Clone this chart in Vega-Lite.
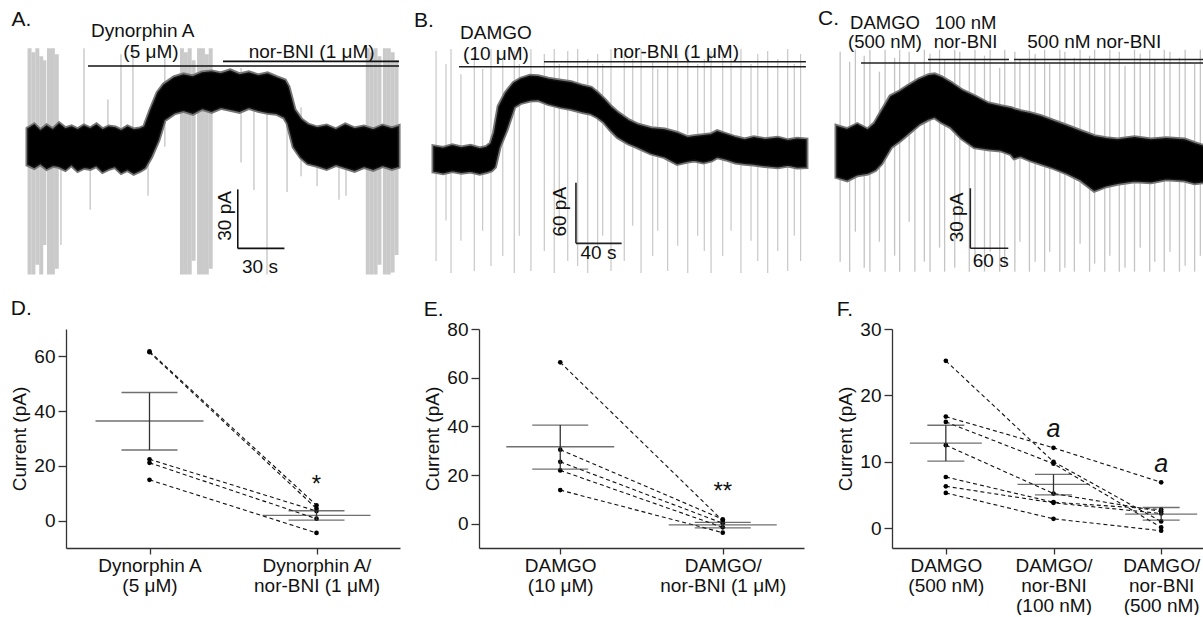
{
  "$schema": "https://vega.github.io/schema/vega-lite/v6.json",
  "padding": {"left": 10, "top": 0, "right": 0, "bottom": 0},
  "background": "white",
  "config": {
    "view": {"stroke": null},
    "font": "Liberation Sans",
    "text": {"font": "Liberation Sans", "color": "#111"},
    "axis": {"domainColor": "#333", "tickColor": "#333", "labelColor": "#111", "titleColor": "#111", "labelFont": "Liberation Sans", "titleFont": "Liberation Sans", "labelFontSize": 19, "titleFontSize": 19, "titleFontWeight": "normal", "grid": false, "domainWidth": 1.3, "tickWidth": 1.3, "labelOverlap": false},
    "axisY": {"tickSize": 8, "labelPadding": 3, "titlePadding": 4},
    "axisX": {"tickSize": 6, "labelPadding": 2, "labelAngle": 0, "labelLineHeight": 20, "labelExpr": "split(datum.label, '|')"},
    "title": {"font": "Liberation Sans", "fontSize": 21, "fontWeight": "normal", "anchor": "start", "frame": "bounds", "color": "#111"}
  },
  "datasets": {
    "bandA": [
      {"time":0,"pA":-9,"pA2":9},{"time":4,"pA":-10.5,"pA2":11},{"time":8,"pA":-8.5,"pA2":8},{"time":12,"pA":-11,"pA2":10.5},{"time":16,"pA":-9.5,"pA2":8.5},{"time":20,"pA":-10,"pA2":11.5},{"time":24,"pA":-11.5,"pA2":9},{"time":28,"pA":-9,"pA2":10},{"time":32,"pA":-12,"pA2":8.5},{"time":36,"pA":-10.5,"pA2":10.5},{"time":40,"pA":-11,"pA2":9},{"time":44,"pA":-9.5,"pA2":11},{"time":48,"pA":-12.5,"pA2":8.5},{"time":52,"pA":-11,"pA2":10},{"time":56,"pA":-10,"pA2":9.5},{"time":60,"pA":-13,"pA2":8},{"time":64,"pA":-11.5,"pA2":10},{"time":68,"pA":-13.5,"pA2":8.5},{"time":72,"pA":-12,"pA2":9},{"time":75,"pA":-10.5,"pA2":10},{"time":79,"pA":-5,"pA2":18.5},{"time":83.6,"pA":3.4,"pA2":27.3},{"time":87.5,"pA":13.6,"pA2":31.4},{"time":94,"pA":17.2,"pA2":35},{"time":100,"pA":18.5,"pA2":36.5},{"time":106,"pA":17,"pA2":35.5},{"time":112,"pA":19.5,"pA2":37.5},{"time":118,"pA":18,"pA2":38},{"time":124,"pA":20,"pA2":37},{"time":130,"pA":19,"pA2":38.5},{"time":136,"pA":18,"pA2":36.5},{"time":142,"pA":20,"pA2":37.5},{"time":148,"pA":18.5,"pA2":36},{"time":154,"pA":17.5,"pA2":37},{"time":160,"pA":17,"pA2":35},{"time":165,"pA":15,"pA2":33.5},{"time":167.2,"pA":12,"pA2":30.4},{"time":171.1,"pA":0,"pA2":18.7},{"time":175.6,"pA":-5.2,"pA2":13.6},{"time":180,"pA":-8.3,"pA2":11},{"time":186,"pA":-9.5,"pA2":9.5},{"time":192,"pA":-11,"pA2":10.5},{"time":198,"pA":-9,"pA2":8.5},{"time":204,"pA":-10.5,"pA2":11},{"time":210,"pA":-12,"pA2":9},{"time":216,"pA":-10,"pA2":10},{"time":222,"pA":-11.5,"pA2":8.5},{"time":228,"pA":-9.5,"pA2":10.5},{"time":234,"pA":-11,"pA2":9},{"time":238,"pA":-10,"pA2":10}
    ],
    "spikesAdense": [
      {"time":1,"pA":-65,"pA2":50},{"time":3.5,"pA":-65,"pA2":48},{"time":6,"pA":-60,"pA2":50},{"time":8.5,"pA":-65,"pA2":46},{"time":10.5,"pA":-50,"pA2":44},{"time":13.5,"pA":-65,"pA2":50},{"time":16,"pA":-65,"pA2":50},{"time":18.5,"pA":-62,"pA2":47},
      {"time":99,"pA":-65,"pA2":50},{"time":101.5,"pA":-65,"pA2":48},{"time":104,"pA":-65,"pA2":50},{"time":106.5,"pA":-58,"pA2":44},{"time":110,"pA":-65,"pA2":50},{"time":112.5,"pA":-65,"pA2":50},{"time":115,"pA":-65,"pA2":47},{"time":117.5,"pA":-62,"pA2":50},
      {"time":218.5,"pA":-65,"pA2":50},{"time":221,"pA":-65,"pA2":48},{"time":223.5,"pA":-65,"pA2":50},{"time":226,"pA":-60,"pA2":46},{"time":229.5,"pA":-65,"pA2":50},{"time":232,"pA":-65,"pA2":50},{"time":234.5,"pA":-64,"pA2":48},{"time":237,"pA":-55,"pA2":44}
    ],
    "spikesAsparse": [
      {"time":36,"pA":0,"pA2":50},{"time":40,"pA":-32,"pA2":0},{"time":51.4,"pA":0,"pA2":24},{"time":67.5,"pA":0,"pA2":50},{"time":77.2,"pA":-25,"pA2":0},{"time":21.2,"pA":-50,"pA2":0},{"time":145.3,"pA":-22,"pA2":20},{"time":153.7,"pA":-65,"pA2":25},{"time":166.6,"pA":-23,"pA2":25},{"time":185.9,"pA":-20,"pA2":0},{"time":200,"pA":-27,"pA2":0},{"time":204.5,"pA":-25,"pA2":0},{"time":175.6,"pA":-15,"pA2":20},{"time":137,"pA":-8,"pA2":40},{"time":59.8,"pA":0,"pA2":47},{"time":88,"pA":0,"pA2":45}
    ],
    "barsA": [
      {"time":38.6,"time2":238.6,"pA":41,"pA2":41},{"time":125.4,"time2":238.6,"pA":43.4,"pA2":43.4},{"time":134.9,"time2":134.9,"pA":-51.7,"pA2":-21.7},{"time":134.9,"time2":164.9,"pA":-51.7,"pA2":-51.7}
    ],
    "textA": [
      {"time":-10.6,"pA":61.4,"label":"A.","role":"letter"},{"time":73.8,"pA":55.6,"label":"Dynorphin A","role":"drug"},{"time":79.1,"pA":44.9,"label":"(5 μM)","role":"drug"},{"time":182.4,"pA":44.9,"label":"nor-BNI (1 μM)","role":"drug"},{"time":149.2,"pA":-64.4,"label":"30 s","role":"drug"},{"time":126.7,"pA":-35.2,"label":"30 pA","role":"vert"}
    ],
    "bandB": [
      {"time":0,"pA":-11,"pA2":13},{"time":8,"pA":-12.5,"pA2":11.5},{"time":16,"pA":-10.5,"pA2":14},{"time":24,"pA":-12,"pA2":12},{"time":32,"pA":-11,"pA2":13.5},{"time":40,"pA":-13,"pA2":11},{"time":46,"pA":-11.5,"pA2":12.5},{"time":50,"pA":-10,"pA2":16},{"time":53,"pA":-6.6,"pA2":26.7},{"time":57,"pA":13,"pA2":52.8},{"time":63,"pA":29.7,"pA2":66},{"time":70,"pA":52.8,"pA2":75.9},{"time":76,"pA":57,"pA2":80},{"time":84,"pA":59.4,"pA2":83},{"time":91,"pA":60,"pA2":82.5},{"time":100,"pA":56,"pA2":80},{"time":111,"pA":52.8,"pA2":78},{"time":120,"pA":51,"pA2":76.5},{"time":130,"pA":48,"pA2":73},{"time":137.5,"pA":46.2,"pA2":71},{"time":143,"pA":43,"pA2":66},{"time":149,"pA":37.9,"pA2":59.4},{"time":155,"pA":30,"pA2":52},{"time":161,"pA":23.1,"pA2":46.2},{"time":170,"pA":17,"pA2":39},{"time":178,"pA":13.2,"pA2":34.7},{"time":190,"pA":7,"pA2":31},{"time":202,"pA":3.3,"pA2":29.7},{"time":213,"pA":-3.3,"pA2":26.4},{"time":222,"pA":-1,"pA2":22},{"time":228,"pA":0,"pA2":23},{"time":236,"pA":-2,"pA2":24},{"time":243,"pA":0,"pA2":25},{"time":248,"pA":3.3,"pA2":28},{"time":256,"pA":1,"pA2":25},{"time":264,"pA":-2,"pA2":22},{"time":272,"pA":-3.3,"pA2":19.8},{"time":280,"pA":-4,"pA2":22},{"time":290,"pA":-5.5,"pA2":20},{"time":301,"pA":-6.6,"pA2":21.5},{"time":310,"pA":-5,"pA2":19},{"time":318,"pA":-7,"pA2":20.5},{"time":325.7,"pA":-6.6,"pA2":19.8}
    ],
    "spikesB": [
      {"time":1.8,"pA":-100,"pA2":108},{"time":10.5,"pA":-60,"pA2":95},{"time":14.9,"pA":-112,"pA2":110},{"time":23.6,"pA":-80,"pA2":85},{"time":35.3,"pA":-110,"pA2":105},{"time":42.6,"pA":-70,"pA2":90},{"time":49.9,"pA":-105,"pA2":110},{"time":60.2,"pA":-95,"pA2":100},{"time":70.3,"pA":-112,"pA2":108},{"time":74.7,"pA":-75,"pA2":95},{"time":84.9,"pA":-110,"pA2":110},{"time":96.6,"pA":-90,"pA2":105},{"time":105.3,"pA":-112,"pA2":110},{"time":109.7,"pA":-70,"pA2":95},{"time":117.1,"pA":-100,"pA2":108},{"time":125.8,"pA":-105,"pA2":110},{"time":134.6,"pA":-112,"pA2":100},{"time":143.3,"pA":-85,"pA2":105},{"time":147.7,"pA":-75,"pA2":95},{"time":155,"pA":-110,"pA2":110},{"time":166.6,"pA":-100,"pA2":105},{"time":174,"pA":-65,"pA2":100},{"time":181.3,"pA":-112,"pA2":110},{"time":191.5,"pA":-95,"pA2":98},{"time":195.9,"pA":-70,"pA2":90},{"time":204.6,"pA":-110,"pA2":108},{"time":213.4,"pA":-85,"pA2":105},{"time":222.2,"pA":-112,"pA2":110},{"time":230.9,"pA":-75,"pA2":95},{"time":236.7,"pA":-90,"pA2":100},{"time":242.6,"pA":-112,"pA2":108},{"time":252.8,"pA":-95,"pA2":105},{"time":260.1,"pA":-70,"pA2":100},{"time":268.8,"pA":-112,"pA2":110},{"time":277.6,"pA":-80,"pA2":95},{"time":283.5,"pA":-100,"pA2":105},{"time":292.2,"pA":-112,"pA2":108},{"time":301,"pA":-90,"pA2":100},{"time":309.7,"pA":-110,"pA2":110},{"time":315.5,"pA":-75,"pA2":95},{"time":321,"pA":-100,"pA2":105}
    ],
    "barsB": [
      {"time":21.9,"time2":325.7,"pA":92.4,"pA2":92.4},{"time":96.3,"time2":325.7,"pA":97.3,"pA2":97.3},{"time":124.3,"time2":124.3,"pA":-82.5,"pA2":-22.5},{"time":124.3,"time2":164.3,"pA":-82.5,"pA2":-82.5}
    ],
    "textB": [
      {"time":-17.5,"pA":131.7,"label":"B.","role":"letter"},{"time":54.3,"pA":119.5,"label":"DAMGO","role":"drug"},{"time":54.3,"pA":99,"label":"(10 μM)","role":"drug"},{"time":211.9,"pA":100.7,"label":"nor-BNI (1 μM)","role":"drug"},{"time":144,"pA":-98.3,"label":"40 s","role":"drug"},{"time":110.3,"pA":-51.2,"label":"60 pA","role":"vert"}
    ],
    "bandC": [
      {"time":0,"pA":-12.5,"pA2":12.5},{"time":16,"pA":-14,"pA2":11},{"time":32,"pA":-11.5,"pA2":13.5},{"time":48.5,"pA":-10.7,"pA2":10.8},{"time":60,"pA":-9,"pA2":14},{"time":69.5,"pA":-5.8,"pA2":19.2},{"time":85,"pA":2.5,"pA2":27.5},{"time":100,"pA":6,"pA2":30},{"time":112,"pA":9.2,"pA2":32.5},{"time":130,"pA":14,"pA2":36},{"time":145,"pA":16.5,"pA2":38},{"time":154,"pA":17.5,"pA2":38.4},{"time":165,"pA":15,"pA2":37},{"time":180,"pA":12.5,"pA2":34.2},{"time":197,"pA":7,"pA2":30.5},{"time":217,"pA":2.5,"pA2":27.5},{"time":238,"pA":1.5,"pA2":24},{"time":259,"pA":0.85,"pA2":22.5},{"time":275,"pA":-1,"pA2":21.5},{"time":280,"pA":-3,"pA2":20.9},{"time":290,"pA":-2,"pA2":20},{"time":305,"pA":-4,"pA2":19},{"time":322,"pA":-5.8,"pA2":17.5},{"time":343,"pA":-8,"pA2":15},{"time":364.5,"pA":-10.8,"pA2":12.5},{"time":385,"pA":-14,"pA2":10},{"time":406.5,"pA":-19.2,"pA2":7.5},{"time":425,"pA":-17,"pA2":6.5},{"time":443,"pA":-15.8,"pA2":5.9},{"time":470,"pA":-14.5,"pA2":7},{"time":496,"pA":-15,"pA2":5.9},{"time":520,"pA":-13.5,"pA2":6.5},{"time":549,"pA":-14.2,"pA2":5.9},{"time":565,"pA":-15.5,"pA2":4},{"time":580,"pA":-15,"pA2":2.5}
    ],
    "spikesC": [
      {"time":5,"pA":-55,"pA2":50},{"time":20,"pA":-60,"pA2":45},{"time":29,"pA":-40,"pA2":51},{"time":43,"pA":-58,"pA2":48},{"time":52,"pA":-60,"pA2":51},{"time":67,"pA":-45,"pA2":40},{"time":76,"pA":-60,"pA2":51},{"time":91,"pA":-52,"pA2":47},{"time":99,"pA":-60,"pA2":51},{"time":114,"pA":-35,"pA2":50},{"time":123,"pA":-60,"pA2":44},{"time":138,"pA":-55,"pA2":51},{"time":147,"pA":-60,"pA2":49},{"time":162,"pA":-48,"pA2":51},{"time":170,"pA":-60,"pA2":46},{"time":186,"pA":-58,"pA2":51},{"time":194,"pA":-42,"pA2":50},{"time":209,"pA":-60,"pA2":45},{"time":218,"pA":-55,"pA2":51},{"time":233,"pA":-60,"pA2":48},{"time":242,"pA":-50,"pA2":51},{"time":257,"pA":-60,"pA2":42},{"time":265,"pA":-57,"pA2":51},{"time":281,"pA":-60,"pA2":50},{"time":289,"pA":-45,"pA2":46},{"time":304,"pA":-60,"pA2":51},{"time":313,"pA":-55,"pA2":49},{"time":328,"pA":-60,"pA2":51},{"time":336,"pA":-50,"pA2":44},{"time":352,"pA":-60,"pA2":51},{"time":360,"pA":-58,"pA2":50},{"time":375,"pA":-60,"pA2":47},{"time":384,"pA":-46,"pA2":51},{"time":399,"pA":-60,"pA2":48},{"time":407,"pA":-56,"pA2":51},{"time":423,"pA":-60,"pA2":45},{"time":431,"pA":-52,"pA2":51},{"time":446,"pA":-60,"pA2":50},{"time":455,"pA":-58,"pA2":43},{"time":470,"pA":-60,"pA2":51},{"time":479,"pA":-48,"pA2":49},{"time":494,"pA":-60,"pA2":51},{"time":502,"pA":-55,"pA2":46},{"time":517,"pA":-60,"pA2":51},{"time":526,"pA":-50,"pA2":50},{"time":541,"pA":-60,"pA2":47},{"time":550,"pA":-57,"pA2":51},{"time":565,"pA":-60,"pA2":44},{"time":574,"pA":-52,"pA2":51}
    ],
    "barsC": [
      {"time":37.9,"time2":579.8,"pA":44.35,"pA2":44.35},{"time":143.8,"time2":271.7,"pA":46.1,"pA2":46.1},{"time":279.6,"time2":579.8,"pA":46.1,"pA2":46.1},{"time":210.6,"time2":210.6,"pA":-48.3,"pA2":-18.3},{"time":210.6,"time2":270.6,"pA":-48.3,"pA2":-48.3}
    ],
    "textC": [
      {"time":-30,"pA":63.35,"label":"C.","role":"letter"},{"time":75.8,"pA":61.6,"label":["DAMGO","(500 nM)"],"role":"stack"},{"time":203.2,"pA":61.6,"label":["100 nM","nor-BNI"],"role":"stack"},{"time":406.5,"pA":52,"label":"500 nM nor-BNI","role":"drug"},{"time":242.8,"pA":-57.5,"label":"60 s","role":"drug"},{"time":189.6,"pA":-32.9,"label":"30 pA","role":"vert"}
    ],
    "ptsD": [
      {"cell":1,"cond":"Dynorphin A|(5 μM)","val":61.8},{"cell":1,"cond":"Dynorphin A/|nor-BNI (1 μM)","val":5.6},
      {"cell":2,"cond":"Dynorphin A|(5 μM)","val":61.5},{"cell":2,"cond":"Dynorphin A/|nor-BNI (1 μM)","val":4.4},
      {"cell":3,"cond":"Dynorphin A|(5 μM)","val":22.4},{"cell":3,"cond":"Dynorphin A/|nor-BNI (1 μM)","val":3.5},
      {"cell":4,"cond":"Dynorphin A|(5 μM)","val":21.1},{"cell":4,"cond":"Dynorphin A/|nor-BNI (1 μM)","val":0.7},
      {"cell":5,"cond":"Dynorphin A|(5 μM)","val":14.9},{"cell":5,"cond":"Dynorphin A/|nor-BNI (1 μM)","val":-4.5}
    ],
    "statD": [
      {"cond":"Dynorphin A|(5 μM)","stat":"mean","val":36.4},{"cond":"Dynorphin A|(5 μM)","stat":"sem","val":46.8},{"cond":"Dynorphin A|(5 μM)","stat":"sem","val":25.8},
      {"cond":"Dynorphin A/|nor-BNI (1 μM)","stat":"mean","val":1.9},{"cond":"Dynorphin A/|nor-BNI (1 μM)","stat":"sem","val":3.6},{"cond":"Dynorphin A/|nor-BNI (1 μM)","stat":"sem","val":0.2}
    ],
    "errD": [
      {"cond":"Dynorphin A|(5 μM)","val":25.8,"val2":46.8},{"cond":"Dynorphin A/|nor-BNI (1 μM)","val":0.2,"val2":3.6}
    ],
    "sigD": [{"cond":"Dynorphin A/|nor-BNI (1 μM)","val":10.5,"label":"*"}],
    "ptsE": [
      {"cell":1,"cond":"DAMGO|(10 μM)","val":66.3},{"cell":1,"cond":"DAMGO/|nor-BNI (1 μM)","val":1.2},
      {"cell":2,"cond":"DAMGO|(10 μM)","val":30.4},{"cell":2,"cond":"DAMGO/|nor-BNI (1 μM)","val":1.8},
      {"cell":3,"cond":"DAMGO|(10 μM)","val":25.4},{"cell":3,"cond":"DAMGO/|nor-BNI (1 μM)","val":0.2},
      {"cell":4,"cond":"DAMGO|(10 μM)","val":21.9},{"cell":4,"cond":"DAMGO/|nor-BNI (1 μM)","val":-1.5},
      {"cell":5,"cond":"DAMGO|(10 μM)","val":13.8},{"cell":5,"cond":"DAMGO/|nor-BNI (1 μM)","val":-3.7}
    ],
    "statE": [
      {"cond":"DAMGO|(10 μM)","stat":"mean","val":31.6},{"cond":"DAMGO|(10 μM)","stat":"sem","val":40.5},{"cond":"DAMGO|(10 μM)","stat":"sem","val":22.4},
      {"cond":"DAMGO/|nor-BNI (1 μM)","stat":"mean","val":-0.5},{"cond":"DAMGO/|nor-BNI (1 μM)","stat":"sem","val":0.5},{"cond":"DAMGO/|nor-BNI (1 μM)","stat":"sem","val":-1.7}
    ],
    "errE": [
      {"cond":"DAMGO|(10 μM)","val":22.4,"val2":40.5},{"cond":"DAMGO/|nor-BNI (1 μM)","val":-1.7,"val2":0.5}
    ],
    "sigE": [{"cond":"DAMGO/|nor-BNI (1 μM)","val":10.3,"label":"**"}],
    "ptsF": [
      {"cell":1,"cond":"DAMGO|(500 nM)","val":25.2},{"cell":1,"cond":"DAMGO/|nor-BNI|(100 nM)","val":10.0},{"cell":1,"cond":"DAMGO/|nor-BNI|(500 nM)","val":1.0},
      {"cell":2,"cond":"DAMGO|(500 nM)","val":16.8},{"cell":2,"cond":"DAMGO/|nor-BNI|(100 nM)","val":12.1},{"cell":2,"cond":"DAMGO/|nor-BNI|(500 nM)","val":6.9},
      {"cell":3,"cond":"DAMGO|(500 nM)","val":16.0},{"cell":3,"cond":"DAMGO/|nor-BNI|(100 nM)","val":9.7},{"cell":3,"cond":"DAMGO/|nor-BNI|(500 nM)","val":0.1},
      {"cell":4,"cond":"DAMGO|(500 nM)","val":12.5},{"cell":4,"cond":"DAMGO/|nor-BNI|(100 nM)","val":5.2},{"cell":4,"cond":"DAMGO/|nor-BNI|(500 nM)","val":2.5},
      {"cell":5,"cond":"DAMGO|(500 nM)","val":7.7},{"cell":5,"cond":"DAMGO/|nor-BNI|(100 nM)","val":3.9},{"cell":5,"cond":"DAMGO/|nor-BNI|(500 nM)","val":2.8},
      {"cell":6,"cond":"DAMGO|(500 nM)","val":6.3},{"cell":6,"cond":"DAMGO/|nor-BNI|(100 nM)","val":3.8},{"cell":6,"cond":"DAMGO/|nor-BNI|(500 nM)","val":2.2},
      {"cell":7,"cond":"DAMGO|(500 nM)","val":5.3},{"cell":7,"cond":"DAMGO/|nor-BNI|(100 nM)","val":1.4},{"cell":7,"cond":"DAMGO/|nor-BNI|(500 nM)","val":-0.4}
    ],
    "statF": [
      {"cond":"DAMGO|(500 nM)","stat":"mean","val":12.8},{"cond":"DAMGO|(500 nM)","stat":"sem","val":15.5},{"cond":"DAMGO|(500 nM)","stat":"sem","val":10.1},
      {"cond":"DAMGO/|nor-BNI|(100 nM)","stat":"mean","val":6.6},{"cond":"DAMGO/|nor-BNI|(100 nM)","stat":"sem","val":8.1},{"cond":"DAMGO/|nor-BNI|(100 nM)","stat":"sem","val":5.0},
      {"cond":"DAMGO/|nor-BNI|(500 nM)","stat":"mean","val":2.1},{"cond":"DAMGO/|nor-BNI|(500 nM)","stat":"sem","val":3.1},{"cond":"DAMGO/|nor-BNI|(500 nM)","stat":"sem","val":1.2}
    ],
    "errF": [
      {"cond":"DAMGO|(500 nM)","val":10.1,"val2":15.5},{"cond":"DAMGO/|nor-BNI|(100 nM)","val":5.0,"val2":8.1},{"cond":"DAMGO/|nor-BNI|(500 nM)","val":1.2,"val2":3.1}
    ],
    "sigF": [{"cond":"DAMGO/|nor-BNI|(100 nM)","val":13.8,"label":"a"},{"cond":"DAMGO/|nor-BNI|(500 nM)","val":8.4,"label":"a"}]
  },
  "spacing": 18,
  "vconcat": [
    {
      "hconcat": [
        {
          "width": 345, "height": 280,
          "encoding": {
            "x": {"field": "time", "type": "quantitative", "scale": {"domain": [24.44, 246.3], "nice": false, "zero": false}, "axis": null},
            "y": {"field": "pA", "type": "quantitative", "scale": {"domain": [-67.77, 74.58], "nice": false, "zero": false}, "axis": null}
          },
          "layer": [
            {"data": {"name": "spikesAdense"}, "mark": {"type": "rule", "color": "#cacaca", "strokeWidth": 4}, "encoding": {"y2": {"field": "pA2"}}},
            {"data": {"name": "spikesAsparse"}, "mark": {"type": "rule", "color": "#c4c4c4", "strokeWidth": 1.3}, "encoding": {"y2": {"field": "pA2"}}},
            {"data": {"name": "bandA"}, "mark": {"type": "area", "color": "#000", "stroke": "#777", "strokeWidth": 5}, "encoding": {"y2": {"field": "pA2"}}},
            {"data": {"name": "bandA"}, "mark": {"type": "area", "color": "#000", "stroke": "#111", "strokeWidth": 1.5}, "encoding": {"y2": {"field": "pA2"}}},
            {"data": {"name": "barsA"}, "mark": {"type": "rule", "color": "#111", "strokeWidth": 1.6}, "encoding": {"x2": {"field": "time2"}, "y2": {"field": "pA2"}}},
            {"data": {"name": "textA"}, "transform": [{"filter": "datum.role === 'letter'"}], "mark": {"type": "text", "fontSize": 21, "align": "left", "baseline": "alphabetic"}, "encoding": {"text": {"field": "label"}}},
            {"data": {"name": "textA"}, "transform": [{"filter": "datum.role === 'drug'"}], "mark": {"type": "text", "fontSize": 19, "align": "center", "baseline": "alphabetic"}, "encoding": {"text": {"field": "label"}}},
            {"data": {"name": "textA"}, "transform": [{"filter": "datum.role === 'vert'"}], "mark": {"type": "text", "fontSize": 19, "align": "center", "baseline": "middle", "angle": 270}, "encoding": {"text": {"field": "label"}}}
          ]
        },
        {
          "width": 390, "height": 280,
          "encoding": {
            "x": {"field": "time", "type": "quantitative", "scale": {"domain": [-20.14, 321.37], "nice": false, "zero": false}, "axis": null},
            "y": {"field": "pA", "type": "quantitative", "scale": {"domain": [-118.81, 158.42], "nice": false, "zero": false}, "axis": null}
          },
          "layer": [
            {"data": {"name": "spikesB"}, "mark": {"type": "rule", "color": "#c8c8c8", "strokeWidth": 1.2}, "encoding": {"y2": {"field": "pA2"}}},
            {"data": {"name": "bandB"}, "mark": {"type": "area", "color": "#000", "stroke": "#777", "strokeWidth": 5}, "encoding": {"y2": {"field": "pA2"}}},
            {"data": {"name": "bandB"}, "mark": {"type": "area", "color": "#000", "stroke": "#111", "strokeWidth": 1.5}, "encoding": {"y2": {"field": "pA2"}}},
            {"data": {"name": "barsB"}, "mark": {"type": "rule", "color": "#222", "strokeWidth": 1.6}, "encoding": {"x2": {"field": "time2"}, "y2": {"field": "pA2"}}},
            {"data": {"name": "textB"}, "transform": [{"filter": "datum.role === 'letter'"}], "mark": {"type": "text", "fontSize": 21, "align": "left", "baseline": "alphabetic"}, "encoding": {"text": {"field": "label"}}},
            {"data": {"name": "textB"}, "transform": [{"filter": "datum.role === 'drug'"}], "mark": {"type": "text", "fontSize": 19, "align": "center", "baseline": "alphabetic"}, "encoding": {"text": {"field": "label"}}},
            {"data": {"name": "textB"}, "transform": [{"filter": "datum.role === 'vert'"}], "mark": {"type": "text", "fontSize": 19, "align": "center", "baseline": "middle", "angle": 270}, "encoding": {"text": {"field": "label"}}}
          ]
        },
        {
          "width": 403, "height": 280,
          "encoding": {
            "x": {"field": "time", "type": "quantitative", "scale": {"domain": [-56.87, 579.78], "nice": false, "zero": false}, "axis": null},
            "y": {"field": "pA", "type": "quantitative", "scale": {"domain": [-64.15, 75.85], "nice": false, "zero": false}, "axis": null}
          },
          "layer": [
            {"data": {"name": "spikesC"}, "mark": {"type": "rule", "color": "#c4c4c4", "strokeWidth": 1.3}, "encoding": {"y2": {"field": "pA2"}}},
            {"data": {"name": "bandC"}, "mark": {"type": "area", "color": "#000", "stroke": "#777", "strokeWidth": 5}, "encoding": {"y2": {"field": "pA2"}}},
            {"data": {"name": "bandC"}, "mark": {"type": "area", "color": "#000", "stroke": "#111", "strokeWidth": 1.5}, "encoding": {"y2": {"field": "pA2"}}},
            {"data": {"name": "barsC"}, "mark": {"type": "rule", "color": "#222", "strokeWidth": 1.6}, "encoding": {"x2": {"field": "time2"}, "y2": {"field": "pA2"}}},
            {"data": {"name": "textC"}, "transform": [{"filter": "datum.role === 'letter'"}], "mark": {"type": "text", "fontSize": 21, "align": "left", "baseline": "alphabetic"}, "encoding": {"text": {"field": "label"}}},
            {"data": {"name": "textC"}, "transform": [{"filter": "datum.role === 'drug'"}], "mark": {"type": "text", "fontSize": 19, "align": "center", "baseline": "alphabetic"}, "encoding": {"text": {"field": "label"}}},
            {"data": {"name": "textC"}, "transform": [{"filter": "datum.role === 'stack'"}], "mark": {"type": "text", "fontSize": 18.5, "align": "center", "baseline": "alphabetic", "lineHeight": 19.5}, "encoding": {"text": {"field": "label"}}},
            {"data": {"name": "textC"}, "transform": [{"filter": "datum.role === 'vert'"}], "mark": {"type": "text", "fontSize": 19, "align": "center", "baseline": "middle", "angle": 270}, "encoding": {"text": {"field": "label"}}}
          ]
        }
      ],
      "spacing": 0,
      "bounds": "flush"
    },
    {
      "hconcat": [
        {
          "width": 334, "height": 219,
          "title": {"text": "D.", "offset": 10},
          "layer": [
            {"mark": {"type": "rule", "color": "#333", "strokeWidth": 1.1, "strokeDash": [2, 2]}, "encoding": {"y": {"datum": 0, "type": "quantitative", "scale": {"domain": [-10, 70], "nice": false, "zero": false}, "axis": {"values": [0, 20, 40, 60], "title": "Current (pA)"}}}},
            {"data": {"name": "ptsD"}, "mark": {"type": "line", "color": "#111", "strokeWidth": 1.1, "strokeDash": [4, 3]}, "encoding": {"x": {"field": "cond", "type": "ordinal", "scale": {"type": "point", "padding": 0.5, "domain": ["Dynorphin A|(5 μM)", "Dynorphin A/|nor-BNI (1 μM)"]}, "title": null}, "y": {"field": "val", "type": "quantitative", "title": "Current (pA)"}, "detail": {"field": "cell"}}},
            {"data": {"name": "ptsD"}, "mark": {"type": "circle", "color": "#000", "size": 22, "opacity": 1}, "encoding": {"x": {"field": "cond", "type": "ordinal", "title": null}, "y": {"field": "val", "type": "quantitative", "title": "Current (pA)"}}},
            {"data": {"name": "errD"}, "mark": {"type": "rule", "color": "#333", "strokeWidth": 1.3}, "encoding": {"x": {"field": "cond", "type": "ordinal", "title": null}, "y": {"field": "val", "type": "quantitative", "title": "Current (pA)"}, "y2": {"field": "val2"}}},
            {"data": {"name": "statD"}, "transform": [{"filter": "datum.stat === 'mean'"}], "mark": {"type": "tick", "orient": "horizontal", "size": 108, "thickness": 1.3, "color": "#333"}, "encoding": {"x": {"field": "cond", "type": "ordinal", "title": null}, "y": {"field": "val", "type": "quantitative", "title": "Current (pA)"}}},
            {"data": {"name": "statD"}, "transform": [{"filter": "datum.stat === 'sem'"}], "mark": {"type": "tick", "orient": "horizontal", "size": 56, "thickness": 1.3, "color": "#333"}, "encoding": {"x": {"field": "cond", "type": "ordinal", "title": null}, "y": {"field": "val", "type": "quantitative", "title": "Current (pA)"}}},
            {"data": {"name": "sigD"}, "mark": {"type": "text", "fontSize": 24, "align": "center", "baseline": "alphabetic"}, "encoding": {"x": {"field": "cond", "type": "ordinal", "title": null}, "y": {"field": "val", "type": "quantitative", "title": "Current (pA)"}, "text": {"field": "label"}}}
          ]
        },
        {
          "width": 325, "height": 219,
          "title": {"text": "E.", "offset": 0},
          "layer": [
            {"mark": {"type": "rule", "color": "#333", "strokeWidth": 1.1, "strokeDash": [2, 2]}, "encoding": {"y": {"datum": 0, "type": "quantitative", "scale": {"domain": [-10, 80], "nice": false, "zero": false}, "axis": {"values": [0, 20, 40, 60, 80], "title": "Current (pA)"}}}},
            {"data": {"name": "ptsE"}, "mark": {"type": "line", "color": "#111", "strokeWidth": 1.1, "strokeDash": [4, 3]}, "encoding": {"x": {"field": "cond", "type": "ordinal", "scale": {"type": "point", "padding": 0.5, "domain": ["DAMGO|(10 μM)", "DAMGO/|nor-BNI (1 μM)"]}, "title": null}, "y": {"field": "val", "type": "quantitative", "title": "Current (pA)"}, "detail": {"field": "cell"}}},
            {"data": {"name": "ptsE"}, "mark": {"type": "circle", "color": "#000", "size": 22, "opacity": 1}, "encoding": {"x": {"field": "cond", "type": "ordinal", "title": null}, "y": {"field": "val", "type": "quantitative", "title": "Current (pA)"}}},
            {"data": {"name": "errE"}, "mark": {"type": "rule", "color": "#333", "strokeWidth": 1.3}, "encoding": {"x": {"field": "cond", "type": "ordinal", "title": null}, "y": {"field": "val", "type": "quantitative", "title": "Current (pA)"}, "y2": {"field": "val2"}}},
            {"data": {"name": "statE"}, "transform": [{"filter": "datum.stat === 'mean'"}], "mark": {"type": "tick", "orient": "horizontal", "size": 108, "thickness": 1.3, "color": "#333"}, "encoding": {"x": {"field": "cond", "type": "ordinal", "title": null}, "y": {"field": "val", "type": "quantitative", "title": "Current (pA)"}}},
            {"data": {"name": "statE"}, "transform": [{"filter": "datum.stat === 'sem'"}], "mark": {"type": "tick", "orient": "horizontal", "size": 56, "thickness": 1.3, "color": "#333"}, "encoding": {"x": {"field": "cond", "type": "ordinal", "title": null}, "y": {"field": "val", "type": "quantitative", "title": "Current (pA)"}}},
            {"data": {"name": "sigE"}, "mark": {"type": "text", "fontSize": 24, "align": "center", "baseline": "alphabetic"}, "encoding": {"x": {"field": "cond", "type": "ordinal", "title": null}, "y": {"field": "val", "type": "quantitative", "title": "Current (pA)"}, "text": {"field": "label"}}}
          ]
        },
        {
          "width": 323, "height": 219,
          "title": {"text": "F.", "offset": 0},
          "layer": [
            {"mark": {"type": "rule", "color": "#333", "strokeWidth": 1.1, "strokeDash": [2, 2]}, "encoding": {"y": {"datum": 0, "type": "quantitative", "scale": {"domain": [-3, 30], "nice": false, "zero": false}, "axis": {"values": [0, 10, 20, 30], "title": "Current (pA)"}}}},
            {"data": {"name": "ptsF"}, "mark": {"type": "line", "color": "#111", "strokeWidth": 1.1, "strokeDash": [4, 3]}, "encoding": {"x": {"field": "cond", "type": "ordinal", "scale": {"type": "point", "padding": 0.5, "domain": ["DAMGO|(500 nM)", "DAMGO/|nor-BNI|(100 nM)", "DAMGO/|nor-BNI|(500 nM)"]}, "title": null}, "y": {"field": "val", "type": "quantitative", "title": "Current (pA)"}, "detail": {"field": "cell"}}},
            {"data": {"name": "ptsF"}, "mark": {"type": "circle", "color": "#000", "size": 22, "opacity": 1}, "encoding": {"x": {"field": "cond", "type": "ordinal", "title": null}, "y": {"field": "val", "type": "quantitative", "title": "Current (pA)"}}},
            {"data": {"name": "errF"}, "mark": {"type": "rule", "color": "#333", "strokeWidth": 1.3}, "encoding": {"x": {"field": "cond", "type": "ordinal", "title": null}, "y": {"field": "val", "type": "quantitative", "title": "Current (pA)"}, "y2": {"field": "val2"}}},
            {"data": {"name": "statF"}, "transform": [{"filter": "datum.stat === 'mean'"}], "mark": {"type": "tick", "orient": "horizontal", "size": 72, "thickness": 1.3, "color": "#333"}, "encoding": {"x": {"field": "cond", "type": "ordinal", "title": null}, "y": {"field": "val", "type": "quantitative", "title": "Current (pA)"}}},
            {"data": {"name": "statF"}, "transform": [{"filter": "datum.stat === 'sem'"}], "mark": {"type": "tick", "orient": "horizontal", "size": 37, "thickness": 1.3, "color": "#333"}, "encoding": {"x": {"field": "cond", "type": "ordinal", "title": null}, "y": {"field": "val", "type": "quantitative", "title": "Current (pA)"}}},
            {"data": {"name": "sigF"}, "mark": {"type": "text", "fontSize": 25, "fontStyle": "italic", "align": "center", "baseline": "alphabetic"}, "encoding": {"x": {"field": "cond", "type": "ordinal", "title": null}, "y": {"field": "val", "type": "quantitative", "title": "Current (pA)"}, "text": {"field": "label"}}}
          ]
        }
      ],
      "spacing": 23,
      "align": "all"
    }
  ]
}
